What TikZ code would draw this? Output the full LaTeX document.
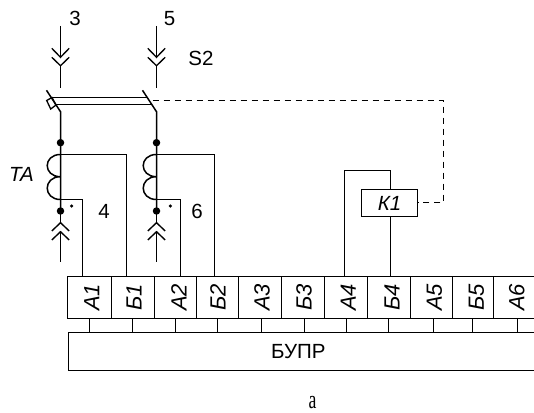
\documentclass[tikz,border=0pt]{standalone}
\usepackage{graphicx}
\usepackage{fontspec}
\setmainfont{Liberation Sans}
\newfontfamily\capfont{Liberation Serif}
\begin{document}
\begin{tikzpicture}[x=1pt,y=-1pt,
  wire/.style={line width=1.5pt,black},
  chev/.style={line width=1.35pt,black},
  dashline/.style={line width=1.6pt,black,dash pattern=on 6.5pt off 4.5pt},
  term/.style={draw,line width=1.5pt,minimum height=42pt,inner sep=0pt,outer sep=0pt,font=\fontsize{22}{22}\selectfont\itshape},
  lbl/.style={inner sep=0pt,font=\fontsize{20.5}{21}\selectfont},
  ilbl/.style={inner sep=0pt,font=\fontsize{20.5}{21}\selectfont\itshape},
  jdot/.style={circle,fill=black,draw=none,minimum size=7.5pt,inner sep=0pt},
  sdot/.style={circle,fill=black,draw=none,minimum size=3.5pt,inner sep=0pt}]
\useasboundingbox (0,0) rectangle (534,412);
% terminal strip: name, left, right, text shift, text
\newcommand{\tb}[5]{%
  \pgfmathsetmacro{\tbc}{(#2+#3)/2}\pgfmathsetmacro{\tbw}{#3-#2}\pgfmathsetmacro{\tbs}{2*#4}%
  \node[term,minimum width=\tbw pt] (#1) at (\tbc,297.5) {\hspace*{\tbs pt}\rotatebox{90}{#5}};}
\tb{a1}{67.5}{111.5}{2.2}{А1}
\tb{b1}{111.5}{154.5}{1.0}{Б1}
\tb{a2}{154.5}{196.5}{3.5}{А2}
\tb{b2}{196.5}{238.5}{0.5}{Б2}
\tb{a3}{238.5}{281.5}{2}{А3}
\tb{b3}{281.5}{324.5}{1}{Б3}
\tb{a4}{324.5}{367.5}{2.3}{А4}
\tb{b4}{367.5}{410.5}{3}{Б4}
\tb{a5}{410.5}{452.5}{3}{А5}
\tb{b5}{452.5}{493.5}{3.5}{Б5}
\tb{a6}{493.5}{536}{2}{А6}
% control unit
\node[lbl] (bupr) at (298.4,351.5) {БУПР};
\draw[wire] (534,332.5) -- (68.5,332.5) -- (68.5,370.5) -- (534,370.5);
\foreach \x in {89.5,132.5,175.5,217.5,261.5,304.5,346.5,388.5,433.5,472.5,517.5}{
  \draw[wire,line width=1.3pt] (\x,318) -- (\x,332.5);
}
% labels
\node[lbl] (n3) at (75,18.5) {3};
\node[lbl] (n5) at (169.5,18.5) {5};
\node[lbl] (s2) at (201,58.5) {S2};
\node[ilbl] (ta) at (21.5,174.7) {TA};
\node[lbl] (n4) at (104,211) {4};
\node[lbl] (n6) at (197,211) {6};
\foreach \x in {60.5,156.5}{
  \draw[wire] (\x,26) -- (\x,57);
  \draw[chev] (\x-8.7,48.3) -- (\x,57.3) -- (\x+8.7,48.3);
  \draw[chev] (\x-8.7,57.3) -- (\x,65.7) -- (\x+8.7,57.3);
  \draw[wire] (\x,65.7) -- (\x,88);
  % switch blade
  \draw[wire] (\x-14,90.3) -- (\x,111.7) -- (\x,211);
  % coil
  \draw[wire] (\x,154.5) .. controls (\x-17.7,154.5) and (\x-17.7,176.7) .. (\x,176.7)
                         .. controls (\x-17.7,176.7) and (\x-17.7,199.5) .. (\x,199.5);
  % lower plug
  \draw[chev] (\x-8.7,231) -- (\x,222.7) -- (\x+8.7,231);
  \draw[chev] (\x-8.7,240) -- (\x,231.7) -- (\x+8.7,240);
  \draw[wire] (\x,211) -- (\x,222.7);
  \draw[wire] (\x,231.7) -- (\x,262);
  \node[jdot] at (\x,142.7) {};
  \node[jdot] at (\x,211) {};
}
\node[sdot] (d4) at (71.7,206) {};
\node[sdot] (d6) at (170.3,206) {};
% mechanical link of the breaker
\draw[wire] (52,97.5) -- (148,97.5);
\draw[wire] (56,104.5) -- (152,104.5);
\draw[wire,line width=1.3pt] (46.7,100.5) -- (52,97.5) -- (56,105) -- (50.7,109) -- cycle;
% wires to terminals
\draw[wire] (60.5,154.5) -| (b1.north -| 126.5,0);
\draw[wire] (60.5,199.5) -| (a1.north -| 82.5,0);
\draw[wire] (156.5,154.5) -| (b2.north -| 214.5,0);
\draw[wire] (156.5,199.5) -| (a2.north -| 180.5,0);
% relay
\node[draw,line width=1.5pt,minimum width=56pt,minimum height=27pt,inner sep=0pt,font=\fontsize{20.5}{21}\selectfont\itshape] (k1) at (389.5,203) {К1};
\draw[wire] (a4.north -| 344.5,0) |- (390.5,170.5) -- (390.5,189.5);
\draw[wire] (390.5,216.5) -- (b4.north -| 390.5,0);
\coordinate (dc) at (443.5,100.5);
\draw[dashline] (152.7,100.5) -- (dc) -- (443.5,202.5) -- (k1.east |- 0,202.5);
% caption
\node[inner sep=0pt,font=\capfont\fontsize{26}{26}\selectfont] (cap) at (312.5,403) {\scalebox{0.68}[1]{а}};
\end{tikzpicture}
\end{document}
